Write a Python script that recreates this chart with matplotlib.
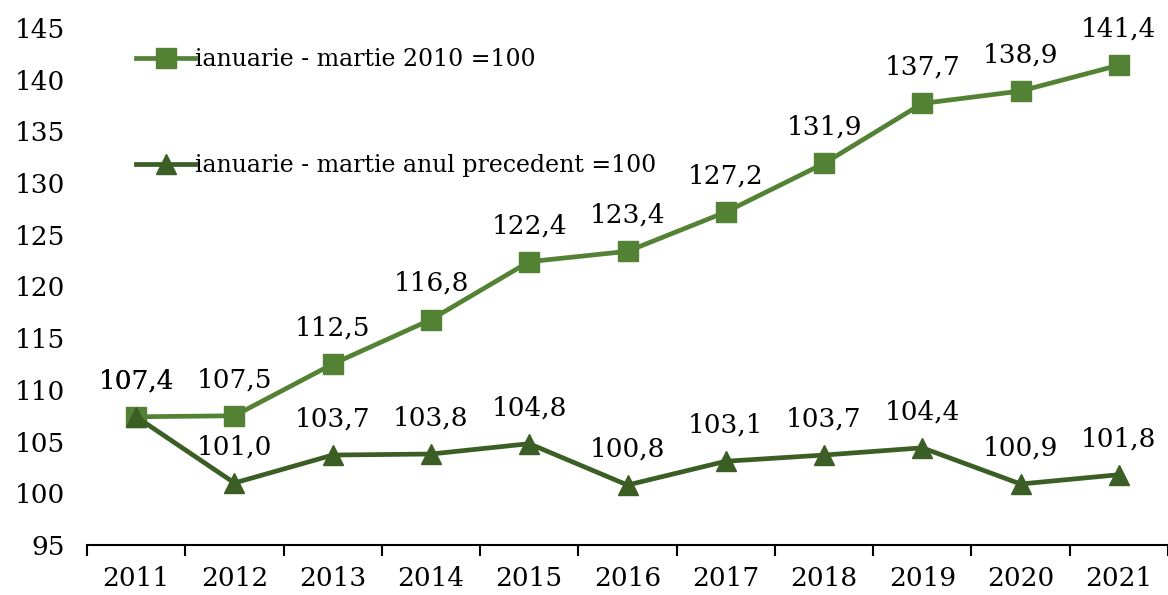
import matplotlib
matplotlib.use('Agg')
from matplotlib import pyplot as plt
import numpy as np

years = ['2011', '2012', '2013', '2014', '2015', '2016', '2017', '2018', '2019', '2020', '2021']
base_2010 = [107.4, 107.5, 112.5, 116.8, 122.4, 123.4, 127.2, 131.9, 137.7, 138.9, 141.4]
prev_year = [107.4, 101.0, 103.7, 103.8, 104.8, 100.8, 103.1, 103.7, 104.4, 100.9, 101.8]
labels = ['ianuarie - martie 2010 =100', 'ianuarie - martie anul precedent =100']

light = '#548235'
dark = '#3b5e25'

plt.rcParams['font.family'] = ['DejaVu Serif']

fig = plt.figure(figsize=(11.68, 5.95), dpi=100)
ax = fig.add_axes([0.0745, 0.084, 0.9255, 0.869])

x = np.arange(len(years))
ax.plot(x, base_2010, color=light, lw=3.4, marker='s', ms=14, label=labels[0], zorder=3)
ax.plot(x, prev_year, color=dark, lw=3.4, marker='^', ms=15, label=labels[1], zorder=3)

fmt = lambda v: ('%.1f' % v).replace('.', ',')
for xi, v in zip(x, base_2010):
    ax.annotate(fmt(v), (xi, v), xytext=(0, 26), textcoords='offset points',
                ha='center', va='center', fontsize=19)
for xi, v in zip(x, prev_year):
    ax.annotate(fmt(v), (xi, v), xytext=(0, 26), textcoords='offset points',
                ha='center', va='center', fontsize=19)

ax.set_xlim(-0.5, len(years) - 0.5)
ax.set_ylim(95, 145)
ax.set_yticks(range(95, 146, 5))
ax.set_xticks(x)
ax.set_xticklabels(years)
ax.set_xticks(np.arange(-0.5, len(years), 1), minor=True)
ax.tick_params(axis='x', which='major', length=0, pad=15, labelsize=19)
ax.tick_params(axis='x', which='minor', length=8, width=1.5, direction='out')
ax.tick_params(axis='y', length=0, pad=16, labelsize=19)
for s in ['top', 'right', 'left']:
    ax.spines[s].set_visible(False)
ax.spines['bottom'].set_linewidth(1.5)

leg = ax.legend(loc='upper left', bbox_to_anchor=(0.037, 0.979), frameon=False,
                fontsize=17, handlelength=2.5, handletextpad=0.0, labelspacing=3.5,
                borderaxespad=0)

fig.savefig('out.png', dpi=100)
